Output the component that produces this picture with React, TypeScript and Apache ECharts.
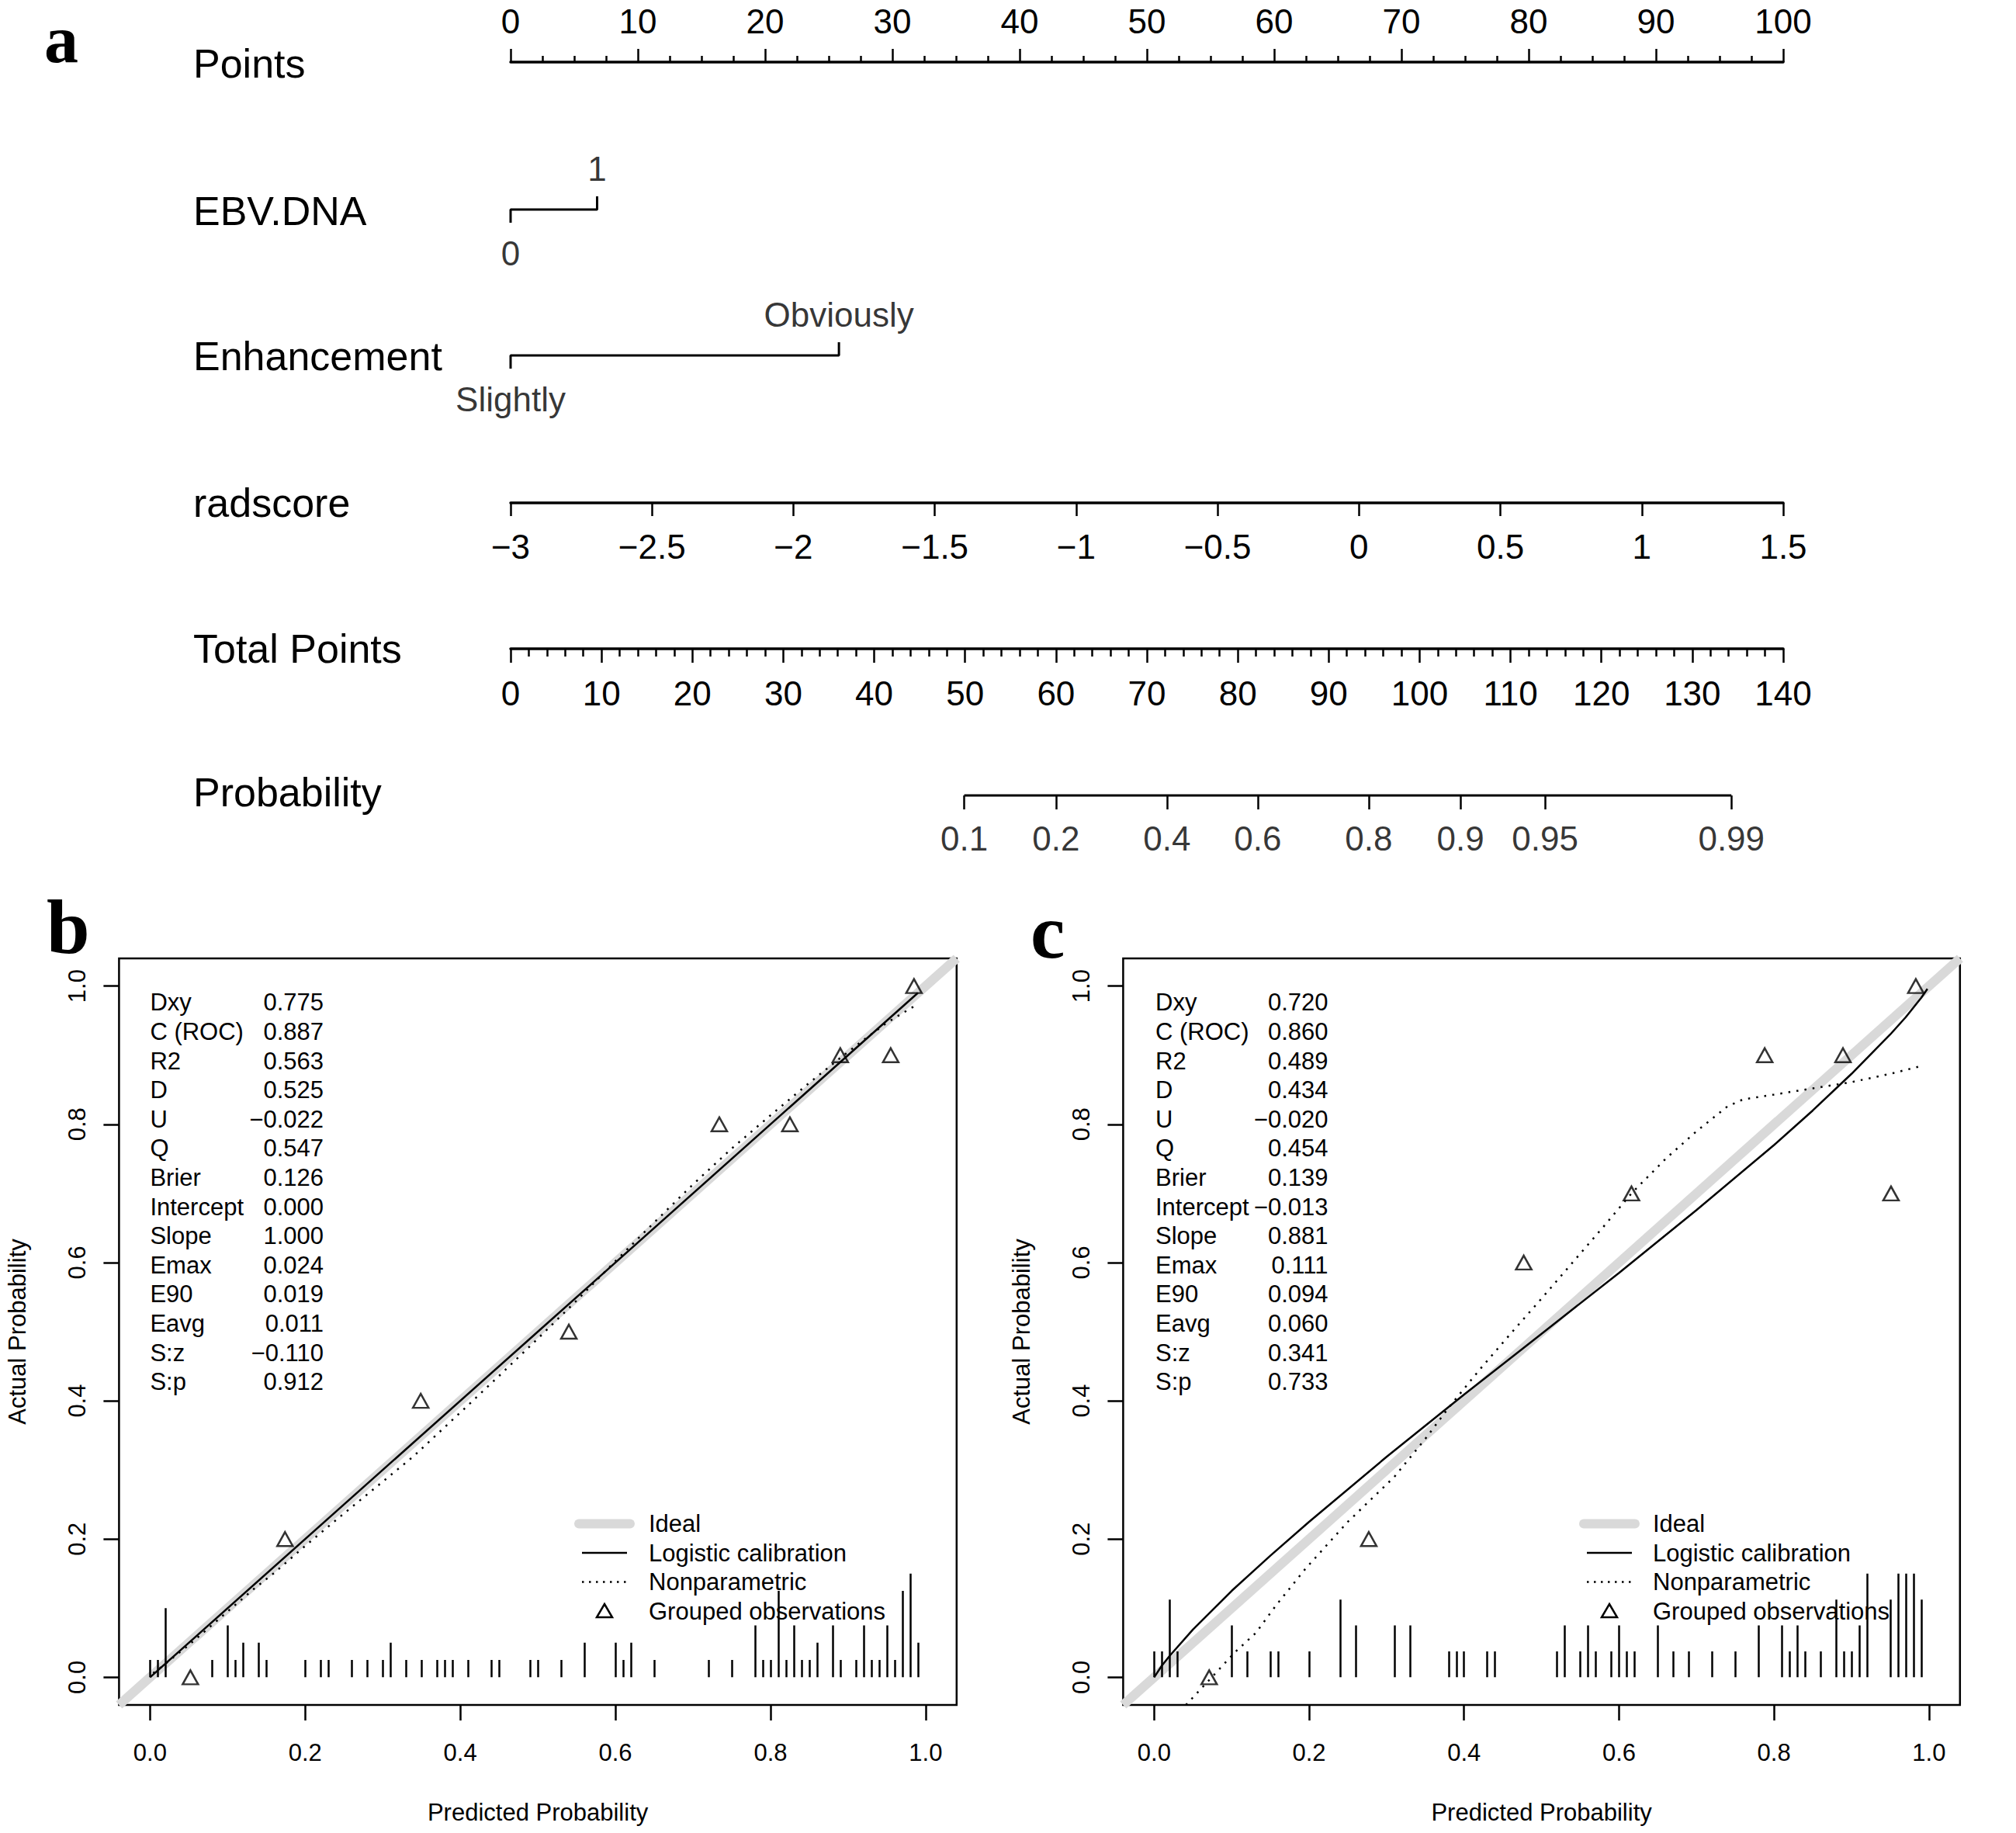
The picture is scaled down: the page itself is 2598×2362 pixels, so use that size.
import React, { useEffect, useRef } from 'react';
import * as echarts from 'echarts';

const W = 2598;
const H = 2362;
const FONT = '"Liberation Sans", Arial, Helvetica, sans-serif';
const SERIF = '"Liberation Serif", "Times New Roman", serif';

// ---------------- Panel a : nomogram ----------------
const nomoLabels = ['Points', 'EBV.DNA', 'Enhancement', 'radscore', 'Total Points', 'Probability'];
const pointsRange = [0, 100];
const pointsStep = 10;
const ebvLevels = ['0', '1'];
const ebvPoints = [0, 6.8];
const enhLevels = ['Slightly', 'Obviously'];
const enhPoints = [0, 25.8];
const radscoreRange = [-3, 1.5];
const radscoreStep = 0.5;
const totalRange = [0, 140];
const totalStep = 10;
const probLabels = ['0.1', '0.2', '0.4', '0.6', '0.8', '0.9', '0.95', '0.99'];
const probTotalPoints = [49.9, 60.0, 72.2, 82.2, 94.4, 104.5, 113.8, 134.3];

// ---------------- Panels b, c : calibration ----------------
const calLim = [-0.04, 1.04];
const calTicks = [0, 0.2, 0.4, 0.6, 0.8, 1.0];
const statNames = ['Dxy', 'C (ROC)', 'R2', 'D', 'U', 'Q', 'Brier', 'Intercept', 'Slope', 'Emax', 'E90', 'Eavg', 'S:z', 'S:p'];
const statsB = ['0.775', '0.887', '0.563', '0.525', '\u22120.022', '0.547', '0.126', '0.000', '1.000', '0.024', '0.019', '0.011', '\u22120.110', '0.912'];
const statsC = ['0.720', '0.860', '0.489', '0.434', '\u22120.020', '0.454', '0.139', '\u22120.013', '0.881', '0.111', '0.094', '0.060', '0.341', '0.733'];
const legendNames = ['Ideal', 'Logistic calibration', 'Nonparametric', 'Grouped observations'];

const idealX = [-0.04, 1.04];
const idealY = [-0.04, 1.04];

const logisticB_x = [0.0, 0.5, 0.99];
const logisticB_y = [0.0, 0.5, 0.99];
const nonparB_x = [0.004, 0.017, 0.029, 0.047, 0.07, 0.107, 0.135, 0.16, 0.2, 0.25, 0.3, 0.34, 0.4, 0.45, 0.5, 0.55, 0.6, 0.65, 0.7, 0.75, 0.8, 0.85, 0.89, 0.92, 0.95, 0.987];
const nonparB_y = [0.006, 0.017, 0.028, 0.044, 0.066, 0.102, 0.129, 0.151, 0.19, 0.237, 0.283, 0.32, 0.383, 0.436, 0.49, 0.545, 0.602, 0.658, 0.713, 0.765, 0.813, 0.86, 0.896, 0.922, 0.947, 0.972];
const groupedB_x = [0.052, 0.174, 0.349, 0.54, 0.734, 0.825, 0.89, 0.955, 0.985];
const groupedB_y = [0.0, 0.2, 0.4, 0.5, 0.8, 0.8, 0.9, 0.9, 1.0];
const spikeB_x = [0.00, 0.01, 0.02, 0.08, 0.10, 0.11, 0.12, 0.14, 0.15, 0.20, 0.22, 0.23, 0.26, 0.28, 0.30, 0.31, 0.33, 0.35, 0.37, 0.38, 0.39, 0.41, 0.44, 0.45, 0.49, 0.50, 0.53, 0.56, 0.60, 0.61, 0.62, 0.65, 0.72, 0.75, 0.78, 0.79, 0.80, 0.81, 0.82, 0.83, 0.84, 0.85, 0.86, 0.88, 0.89, 0.91, 0.92, 0.93, 0.94, 0.95, 0.96, 0.97, 0.98, 0.99];
const spikeB_n = [1, 1, 4, 1, 3, 1, 2, 2, 1, 1, 1, 1, 1, 1, 1, 2, 1, 1, 1, 1, 1, 1, 1, 1, 1, 1, 1, 2, 2, 1, 2, 1, 1, 1, 3, 1, 1, 5, 1, 3, 1, 1, 2, 3, 1, 1, 3, 1, 1, 3, 1, 5, 6, 2];

const logisticC_x = [0.0, 0.01, 0.02, 0.05, 0.1, 0.15, 0.2, 0.3, 0.4, 0.5, 0.6, 0.7, 0.8, 0.85, 0.9, 0.95, 0.97, 0.99, 0.998];
const logisticC_y = [0.0, 0.017, 0.031, 0.069, 0.125, 0.176, 0.225, 0.319, 0.409, 0.497, 0.585, 0.676, 0.77, 0.82, 0.873, 0.93, 0.955, 0.983, 0.996];
const nonparC_x = [0.041, 0.076, 0.104, 0.131, 0.158, 0.196, 0.25, 0.31, 0.35, 0.38, 0.42, 0.46, 0.5, 0.54, 0.58, 0.616, 0.66, 0.7, 0.74, 0.76, 0.8, 0.85, 0.9, 0.95, 0.989];
const nonparC_y = [-0.04, 0.002, 0.036, 0.064, 0.105, 0.158, 0.225, 0.29, 0.345, 0.39, 0.445, 0.497, 0.548, 0.6, 0.652, 0.7, 0.75, 0.79, 0.826, 0.836, 0.843, 0.852, 0.861, 0.873, 0.884];
const groupedC_x = [0.071, 0.277, 0.477, 0.616, 0.788, 0.889, 0.951, 0.983];
const groupedC_y = [0.0, 0.2, 0.6, 0.7, 0.9, 0.9, 0.7, 1.0];
const spikeC_x = [0.00, 0.01, 0.02, 0.03, 0.10, 0.12, 0.15, 0.16, 0.20, 0.24, 0.26, 0.31, 0.33, 0.38, 0.39, 0.40, 0.43, 0.44, 0.52, 0.53, 0.55, 0.56, 0.57, 0.59, 0.60, 0.61, 0.62, 0.65, 0.67, 0.69, 0.72, 0.75, 0.78, 0.81, 0.82, 0.83, 0.84, 0.86, 0.88, 0.89, 0.90, 0.91, 0.92, 0.95, 0.96, 0.97, 0.98, 0.99];
const spikeC_n = [1, 1, 3, 1, 2, 1, 1, 1, 1, 3, 2, 2, 2, 1, 1, 1, 1, 1, 1, 2, 1, 2, 1, 1, 2, 1, 1, 2, 1, 1, 1, 1, 2, 2, 1, 2, 1, 1, 3, 1, 1, 2, 4, 3, 4, 4, 4, 3];
const spikeMaxHeight = 0.15;

// ---------------- layout (pixels) ----------------
const NL = 658;
const NW = 1640;
const rowLineY = [80, 270, 458, 648, 836, 1025];
const rowLabelY = [82, 272, 459, 648, 836, 1021];
const TICK = 17;

const calGrids = [
  { left: 153.4, top: 1235, width: 1079.4, height: 962 },
  { left: 1447.4, top: 1235, width: 1078.4, height: 962 },
];

const zip = (xs: number[], ys: number[]) => xs.map((x, i) => [x, ys[i]]);
const fmtMinus = (v: number) => String(v).replace('-', '\u2212');

const blk = '#000';

function hiddenAxis(gridIndex: number, min: number, max: number) {
  return { gridIndex, type: 'value', min, max, show: false, axisLine: { onZero: false }, splitLine: { show: false } };
}

function nomoAxis(gridIndex: number, range: number[], step: number, position: string, margin: number, minor: number, minorLen: number, majorLen: number) {
  return {
    gridIndex,
    type: 'value',
    min: range[0],
    max: range[1],
    interval: step,
    position,
    axisLine: { show: true, onZero: false, lineStyle: { color: blk, width: 3.5 } },
    axisTick: { show: true, length: majorLen, lineStyle: { color: blk, width: 2.5 } },
    minorTick: { show: minor > 0, splitNumber: minor > 0 ? minor : 5, length: minorLen, lineStyle: { color: blk, width: 2.5 } },
    axisLabel: { show: true, fontSize: 44, color: blk, margin, fontFamily: FONT, formatter: (v: number) => fmtMinus(v) },
    splitLine: { show: false },
    minorSplitLine: { show: false },
  };
}

function calXAxis(gridIndex: number) {
  return {
    gridIndex,
    type: 'value',
    min: calLim[0],
    max: calLim[1],
    position: 'bottom',
    axisLine: { show: false, onZero: false },
    axisTick: { show: true, length: 20, customValues: calTicks, lineStyle: { color: blk, width: 2.5 } },
    axisLabel: { show: true, customValues: calTicks, fontSize: 31, color: blk, margin: 46, fontFamily: FONT, formatter: (v: number) => v.toFixed(1) },
    splitLine: { show: false },
    name: 'Predicted Probability',
    nameLocation: 'middle',
    nameGap: 123,
    nameTextStyle: { fontSize: 31, color: blk, fontFamily: FONT },
  };
}

function calYAxis(gridIndex: number) {
  return {
    gridIndex,
    type: 'value',
    min: calLim[0],
    max: calLim[1],
    position: 'left',
    axisLine: { show: false, onZero: false },
    axisTick: { show: true, length: 20, customValues: calTicks, lineStyle: { color: blk, width: 2.5 } },
    axisLabel: { show: true, customValues: calTicks, rotate: 90, fontSize: 31, color: blk, margin: 38, fontFamily: FONT, formatter: (v: number) => v.toFixed(1) },
    splitLine: { show: false },
    name: 'Actual Probability',
    nameLocation: 'middle',
    nameGap: 115,
    nameRotate: 90,
    nameTextStyle: { fontSize: 31, color: blk, fontFamily: FONT },
  };
}

function bracketSeries(axisIdx: number, pts: number[], levels: string[], dTop: number, dBottom: number) {
  return [
    {
      type: 'line',
      xAxisIndex: axisIdx,
      yAxisIndex: axisIdx,
      data: [[pts[0], -1], [pts[0], 0], [pts[1], 0], [pts[1], 1]],
      symbol: 'none',
      lineStyle: { color: blk, width: 3 },
      silent: true,
    },
    {
      type: 'scatter',
      xAxisIndex: axisIdx,
      yAxisIndex: axisIdx,
      symbolSize: 0,
      silent: true,
      data: [
        { value: [pts[0], -1], name: levels[0], label: { position: 'bottom', distance: dBottom } },
        { value: [pts[1], 1], name: levels[1], label: { position: 'top', distance: dTop } },
      ],
      label: { show: true, formatter: (p: any) => p.name, fontSize: 44, color: blk, fontFamily: FONT },
    },
  ];
}

function calSeries(idx: number, lx: number[], ly: number[], nx: number[], ny: number[], gx: number[], gy: number[], sx: number[], sn: number[]) {
  const maxN = Math.max(...sn);
  return [
    { type: 'line', xAxisIndex: idx, yAxisIndex: idx, data: zip(idealX, idealY), symbol: 'none', lineStyle: { color: '#d9d9d9', width: 12 }, z: 1, silent: true, clip: true },
    { type: 'line', xAxisIndex: idx, yAxisIndex: idx, data: zip(lx, ly), symbol: 'none', lineStyle: { color: blk, width: 2.5 }, z: 3, silent: true, clip: true },
    { type: 'line', xAxisIndex: idx, yAxisIndex: idx, data: zip(nx, ny), symbol: 'none', lineStyle: { color: blk, width: 2.5, type: [2.5, 8] }, z: 3, silent: true, clip: true },
    {
      type: 'scatter', xAxisIndex: idx, yAxisIndex: idx, data: zip(gx, gy), symbol: 'triangle', symbolSize: [20, 18],
      itemStyle: { color: 'rgba(0,0,0,0)', borderColor: blk, borderWidth: 2.5 }, z: 4, silent: true,
    },
    {
      type: 'lines', coordinateSystem: 'cartesian2d', xAxisIndex: idx, yAxisIndex: idx, silent: true, z: 3,
      data: sx.map((x, i) => ({ coords: [[x, 0], [x, (spikeMaxHeight * sn[i]) / maxN]] })),
      lineStyle: { color: blk, width: 2.5, opacity: 1, curveness: 0 },
    },
  ];
}

function legendGraphic(symCx: number, textX: number) {
  const ys = [1963.5, 2001, 2038.5, 2076];
  const els: any[] = [
    { type: 'line', shape: { x1: symCx - 33, y1: ys[0], x2: symCx + 33, y2: ys[0] }, style: { stroke: '#d9d9d9', lineWidth: 12, lineCap: 'round' } },
    { type: 'line', shape: { x1: symCx - 29, y1: ys[1], x2: symCx + 29, y2: ys[1] }, style: { stroke: blk, lineWidth: 2.5 } },
    { type: 'line', shape: { x1: symCx - 29, y1: ys[2], x2: symCx + 29, y2: ys[2] }, style: { stroke: blk, lineWidth: 2.5, lineDash: [2.5, 6.5] } },
    { type: 'polygon', shape: { points: [[symCx, ys[3] - 9], [symCx + 10, ys[3] + 8], [symCx - 10, ys[3] + 8]] }, style: { fill: 'none', stroke: blk, lineWidth: 2.5 } },
  ];
  legendNames.forEach((n, i) => {
    els.push({
      type: 'text', x: textX, y: ys[i],
      style: { text: n, fontSize: 31, fontFamily: FONT, fill: blk, align: 'left', textAlign: 'left', verticalAlign: 'middle', textVerticalAlign: 'middle' },
    });
  });
  return els;
}

function statsGraphic(nameX: number, valueRightX: number, values: string[]) {
  const top = 1292 - 18.8;
  return [
    {
      type: 'text', x: nameX, y: top,
      style: { text: statNames.join('\n'), fontSize: 31, fontFamily: FONT, fill: blk, lineHeight: 37.6, align: 'left', textAlign: 'left', verticalAlign: 'top', textVerticalAlign: 'top' },
    },
    {
      type: 'text', x: valueRightX, y: top,
      style: { text: values.join('\n'), fontSize: 31, fontFamily: FONT, fill: blk, lineHeight: 37.6, align: 'right', textAlign: 'right', verticalAlign: 'top', textVerticalAlign: 'top' },
    },
  ];
}

function panelLetter(letter: string, x: number, y: number, size: number) {
  return {
    type: 'text', x, y,
    style: { text: letter, fontSize: size, fontWeight: 'bold', fontFamily: SERIF, fill: blk, align: 'left', textAlign: 'left', verticalAlign: 'middle', textVerticalAlign: 'middle' },
  };
}

function buildOption() {
  const grids = [
    { left: NL, width: NW, top: rowLineY[0], height: 20 },
    { left: NL, width: NW, top: rowLineY[1] - TICK, height: 2 * TICK },
    { left: NL, width: NW, top: rowLineY[2] - TICK, height: 2 * TICK },
    { left: NL, width: NW, top: rowLineY[3] - 20, height: 20 },
    { left: NL, width: NW, top: rowLineY[4] - 20, height: 20 },
    { left: NL, width: NW, top: rowLineY[5] - 18, height: 36 },
    { ...calGrids[0], show: true, borderColor: blk, borderWidth: 2.5, backgroundColor: 'rgba(0,0,0,0)' },
    { ...calGrids[1], show: true, borderColor: blk, borderWidth: 2.5, backgroundColor: 'rgba(0,0,0,0)' },
  ];

  const xAxes = [
    nomoAxis(0, pointsRange, pointsStep, 'top', 31, 4, 8, 17),
    hiddenAxis(1, pointsRange[0], pointsRange[1]),
    hiddenAxis(2, pointsRange[0], pointsRange[1]),
    nomoAxis(3, radscoreRange, radscoreStep, 'bottom', 34.5, 0, 0, 17),
    nomoAxis(4, totalRange, totalStep, 'bottom', 35, 5, 10, 18),
    hiddenAxis(5, totalRange[0], totalRange[1]),
    calXAxis(6),
    calXAxis(7),
  ];
  const yAxes = [
    hiddenAxis(0, 0, 1),
    hiddenAxis(1, -1, 1),
    hiddenAxis(2, -1, 1),
    hiddenAxis(3, 0, 1),
    hiddenAxis(4, 0, 1),
    hiddenAxis(5, -1, 1),
    calYAxis(6),
    calYAxis(7),
  ];

  const probFirst = probTotalPoints[0];
  const probLast = probTotalPoints[probTotalPoints.length - 1];

  const series: any[] = [
    ...bracketSeries(1, ebvPoints, ebvLevels, 13.5, 17.5),
    ...bracketSeries(2, enhPoints, enhLevels, 14, 17.5),
    {
      type: 'line', xAxisIndex: 5, yAxisIndex: 5, silent: true, symbol: 'none',
      data: [[probFirst, 0], [probLast, 0]],
      lineStyle: { color: blk, width: 3 },
    },
    {
      type: 'lines', coordinateSystem: 'cartesian2d', xAxisIndex: 5, yAxisIndex: 5, silent: true,
      data: probTotalPoints.map((tp) => ({ coords: [[tp, 0], [tp, -1]] })),
      lineStyle: { color: blk, width: 2.5, opacity: 1, curveness: 0 },
    },
    {
      type: 'scatter', xAxisIndex: 5, yAxisIndex: 5, silent: true, symbolSize: 0,
      data: probTotalPoints.map((tp, i) => ({ value: [tp, -1], name: probLabels[i] })),
      label: { show: true, position: 'bottom', distance: 15.5, formatter: (p: any) => p.name, fontSize: 44, color: blk, fontFamily: FONT },
    },
    ...calSeries(6, logisticB_x, logisticB_y, nonparB_x, nonparB_y, groupedB_x, groupedB_y, spikeB_x, spikeB_n),
    ...calSeries(7, logisticC_x, logisticC_y, nonparC_x, nonparC_y, groupedC_x, groupedC_y, spikeC_x, spikeC_n),
  ];

  const graphic: any[] = [
    panelLetter('a', 57, 50.5, 88),
    panelLetter('b', 60, 1194, 100),
    panelLetter('c', 1328, 1200, 100),
    ...nomoLabels.map((t, i) => ({
      type: 'text', x: 249, y: rowLabelY[i],
      style: { text: t, fontSize: 52, fontFamily: FONT, fill: blk, align: 'left', textAlign: 'left', verticalAlign: 'middle', textVerticalAlign: 'middle' },
    })),
    ...statsGraphic(193.4, 417, statsB),
    ...statsGraphic(1489, 1711.5, statsC),
    ...legendGraphic(779, 836),
    ...legendGraphic(2074, 2130),
  ];

  return {
    animation: false,
    backgroundColor: '#ffffff',
    textStyle: { fontFamily: FONT, color: blk },
    grid: grids,
    xAxis: xAxes,
    yAxis: yAxes,
    series,
    graphic,
  };
}

export default function App() {
  const ref = useRef<HTMLDivElement>(null);
  useEffect(() => {
    if (!ref.current) return;
    const chart = echarts.init(ref.current, null, { renderer: 'svg', width: W, height: H });
    chart.setOption(buildOption() as any);
    return () => {
      chart.dispose();
    };
  }, []);
  return <div ref={ref} style={{ position: 'absolute', left: 0, top: 0, width: W, height: H, background: '#fff' }} />;
}
